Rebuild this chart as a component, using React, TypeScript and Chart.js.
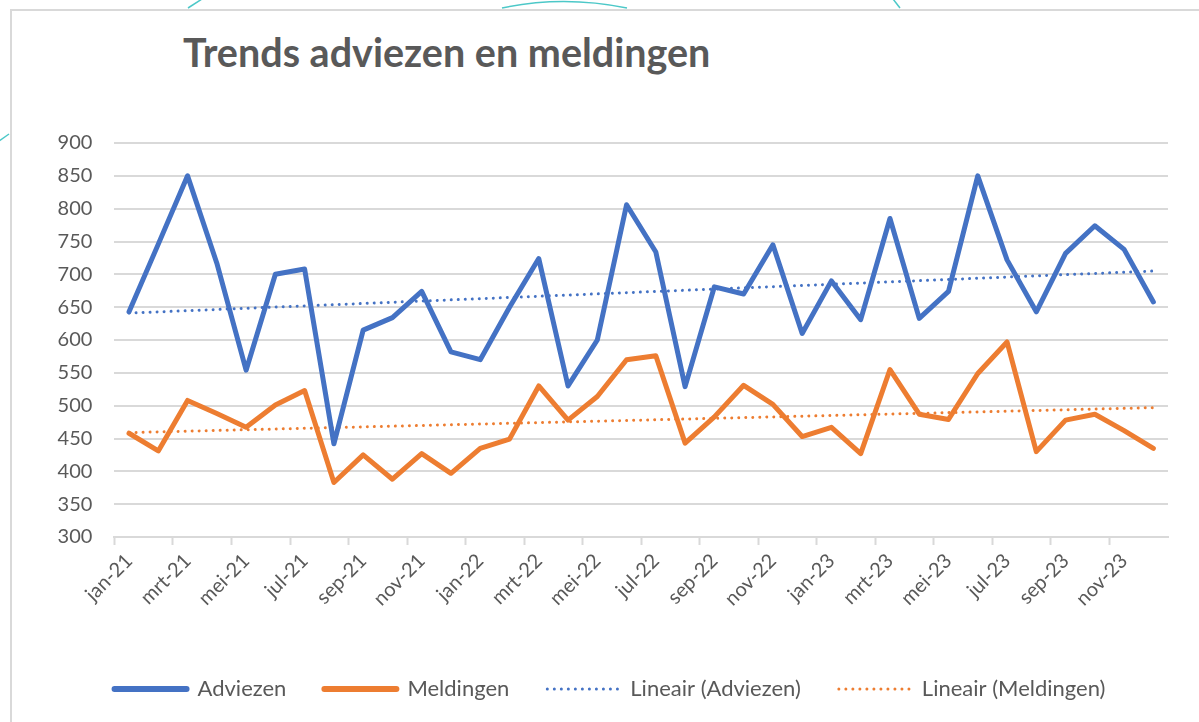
import React, { useEffect, useRef } from 'react';
import { Chart, registerables } from 'chart.js';

Chart.register(...registerables);

const months = ['jan', 'feb', 'mrt', 'apr', 'mei', 'jun', 'jul', 'aug', 'sep', 'okt', 'nov', 'dec'];
const years = ['21', '22', '23'];
const categories: string[] = years.flatMap((y) => months.map((m) => `${m}-${y}`));

const adviezen = [
  643, 746, 850, 717, 554, 700, 708, 442, 615, 634, 674, 582,
  570, 650, 724, 530, 600, 806, 734, 529, 681, 670, 745, 610,
  690, 631, 785, 633, 674, 850, 722, 643, 732, 774, 738, 658,
];
const meldingen = [
  458, 431, 508, 488, 467, 501, 523, 383, 425, 388, 427, 397,
  435, 449, 530, 478, 514, 570, 576, 443, 483, 531, 502, 453,
  467, 427, 555, 487, 479, 549, 597, 430, 478, 487, 462, 435,
];
// Trendline end values (first month, last month)
const adviezenTrendEnds = [641, 705];
const meldingenTrendEnds = [459, 497];

const yTicks = { min: 300, max: 900, step: 50 };

function endsToSeries(ends: number[]): (number | null)[] {
  const arr: (number | null)[] = categories.map(() => null);
  arr[0] = ends[0];
  arr[arr.length - 1] = ends[1];
  return arr;
}

const BLUE = '#4472C4';
const ORANGE = '#ED7D31';
const GRID = '#d9d9d9';
const TEXT = '#595959';
const TEAL = '#4cc8c8';
const FONT = 'Lato, "Open Sans", sans-serif';

export default function App() {
  const ref = useRef<HTMLCanvasElement>(null);

  useEffect(() => {
    const chart = new Chart(ref.current!, {
      type: 'line',
      data: {
        labels: categories,
        datasets: [
          {
            label: 'Adviezen',
            data: adviezen,
            borderColor: BLUE,
            backgroundColor: BLUE,
            borderWidth: 5,
            pointRadius: 0,
            tension: 0,
            borderJoinStyle: 'round',
            borderCapStyle: 'round',
          },
          {
            label: 'Meldingen',
            data: meldingen,
            borderColor: ORANGE,
            backgroundColor: ORANGE,
            borderWidth: 5,
            pointRadius: 0,
            tension: 0,
            borderJoinStyle: 'round',
            borderCapStyle: 'round',
          },
          {
            label: 'Lineair (Adviezen)',
            data: endsToSeries(adviezenTrendEnds),
            borderColor: BLUE,
            backgroundColor: BLUE,
            borderWidth: 3,
            borderDash: [0.01, 7],
            borderCapStyle: 'round',
            pointRadius: 0,
            spanGaps: true,
          },
          {
            label: 'Lineair (Meldingen)',
            data: endsToSeries(meldingenTrendEnds),
            borderColor: ORANGE,
            backgroundColor: ORANGE,
            borderWidth: 3,
            borderDash: [0.01, 7],
            borderCapStyle: 'round',
            pointRadius: 0,
            spanGaps: true,
          },
        ],
      },
      options: {
        animation: false,
        responsive: true,
        maintainAspectRatio: false,
        layout: { padding: { left: 52, right: 31, top: 143, bottom: 12 } },
        plugins: {
          title: { display: false },
          tooltip: { enabled: false },
          legend: {
            position: 'bottom',
            labels: {
              usePointStyle: true,
              pointStyle: 'line',
              pointStyleWidth: 72,
              boxHeight: 22,
              padding: 38,
              color: TEXT,
              font: { family: FONT, size: 22 },
              generateLabels: (c: any) =>
                c.data.datasets.map((ds: any, i: number) => ({
                  text: ds.label,
                  datasetIndex: i,
                  fillStyle: ds.borderColor,
                  strokeStyle: ds.borderColor,
                  fontColor: TEXT,
                  lineWidth: ds.borderDash ? 3 : 6,
                  lineDash: ds.borderDash ? [0.01, 7] : [],
                  lineCap: 'round',
                  pointStyle: 'line',
                  hidden: false,
                })),
            },
          },
        },
        scales: {
          x: {
            offset: true,
            afterFit: (scale: any) => {
              scale.height = 103;
            },
            grid: {
              offset: true,
              drawOnChartArea: false,
              drawTicks: true,
              tickLength: 8,
              tickWidth: 2,
              tickColor: (ctx: any) => (ctx.index % 2 === 0 ? GRID : 'rgba(0,0,0,0)'),
            },
            border: { display: true, color: GRID, width: 2 },
            ticks: {
              autoSkip: false,
              maxRotation: 45,
              minRotation: 45,
              padding: 4,
              color: TEXT,
              font: { family: FONT, size: 20 },
              callback: (_v: any, i: number) => (i % 2 === 0 ? categories[i] : ''),
            },
          },
          y: {
            min: yTicks.min,
            max: yTicks.max,
            afterFit: (scale: any) => {
              scale.width = 62.4;
            },
            grid: { color: GRID, lineWidth: 2, drawTicks: false },
            border: { display: false },
            ticks: {
              stepSize: yTicks.step,
              padding: 22,
              color: TEXT,
              font: { family: FONT, size: 20 },
            },
          },
        },
      },
    });
    return () => chart.destroy();
  }, []);

  return (
    <div
      style={{
        position: 'fixed',
        left: 0,
        top: 0,
        width: 1199,
        height: 722,
        overflow: 'hidden',
        background: '#fff',
      }}
    >
      <svg
        width={1199}
        height={722}
        style={{ position: 'absolute', left: 0, top: 0 }}
      >
        <line x1={188} y1={8} x2={202} y2={-1} stroke={TEAL} strokeWidth={1.5} />
        <path d="M 502 8 Q 563 -5 627 8" fill="none" stroke={TEAL} strokeWidth={1.5} />
        <line x1={893} y1={-1} x2={900} y2={8} stroke={TEAL} strokeWidth={1.5} />
        <line x1={-1} y1={141} x2={9} y2={134} stroke={TEAL} strokeWidth={1.5} />
      </svg>
      <div
        style={{
          position: 'absolute',
          left: 10,
          top: 9,
          right: 0,
          bottom: 0,
          borderLeft: `2px solid ${GRID}`,
          borderTop: `2px solid ${GRID}`,
        }}
      />
      <div
        style={{
          position: 'absolute',
          left: 183,
          top: 32,
          fontFamily: FONT,
          fontWeight: 700,
          fontSize: 39.5,
          lineHeight: '40px',
          color: TEXT,
          whiteSpace: 'nowrap',
        }}
      >
        Trends adviezen en meldingen
      </div>
      <div style={{ position: 'absolute', left: 0, top: 0, width: 1199, height: 722 }}>
        <canvas ref={ref} />
      </div>
    </div>
  );
}
